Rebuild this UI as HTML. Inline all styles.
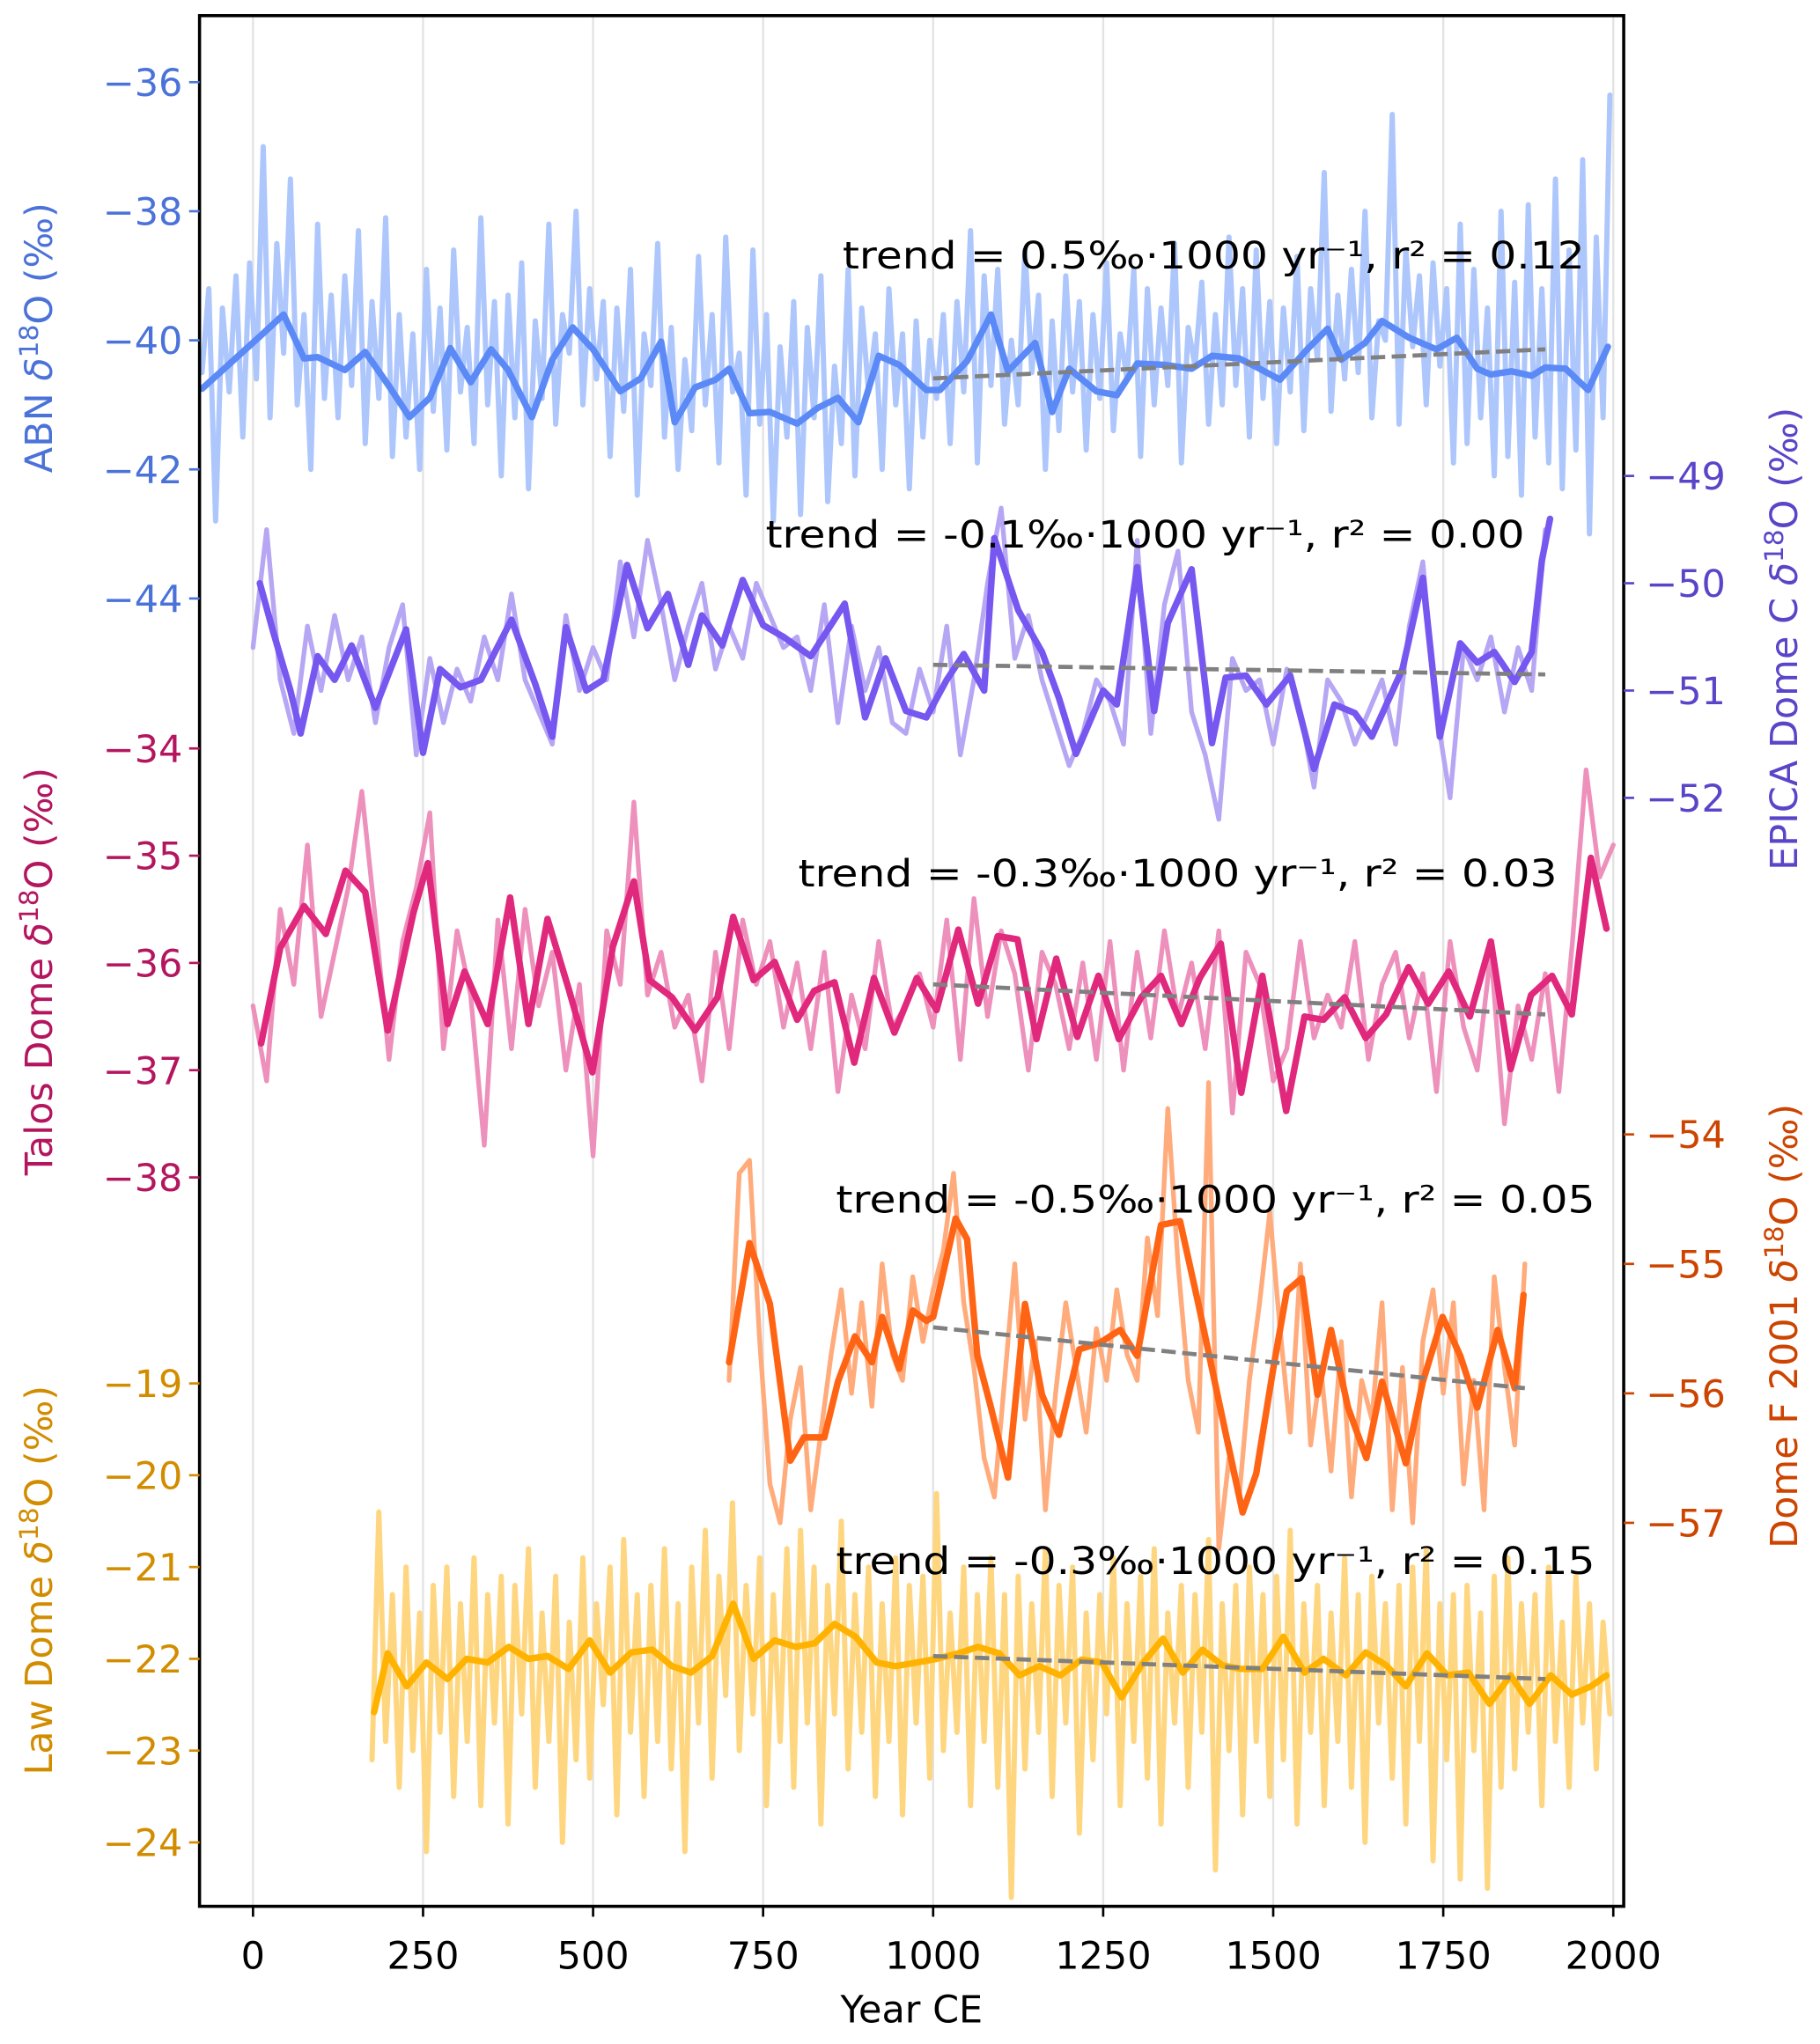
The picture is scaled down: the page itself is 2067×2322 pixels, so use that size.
<!DOCTYPE html>
<html><head><meta charset="utf-8"><style>
html,body{margin:0;padding:0;background:#fff}
svg{display:block}
text{font-family:"DejaVu Sans","Liberation Sans",sans-serif}
</style></head><body>
<svg id="chart" xmlns="http://www.w3.org/2000/svg" width="2067" height="2322" viewBox="0 0 1395.5 1567.6" preserveAspectRatio="none">
<defs><clipPath id="plotclip"><rect x="153" y="12" width="1092" height="1450"/></clipPath></defs>
<rect x="0" y="0" width="1400" height="1570" fill="#fff"/>
<g id="grid"></g>
<g id="series" clip-path="url(#plotclip)"></g>
<g id="annot"></g>
<rect x="153" y="12" width="1092" height="1450" fill="none" stroke="#000" stroke-width="2.4"/>
<g id="axes"></g>
</svg>
<script>
const NS="http://www.w3.org/2000/svg";
// ---------- data ----------
const xTicks=[0,250,500,750,1000,1250,1500,1750,2000];
const abnTicks=[-36,-38,-40,-42,-44];
const epicaTicks=[-49,-50,-51,-52];
const talosTicks=[-34,-35,-36,-37,-38];
const domefTicks=[-54,-55,-56,-57];
const lawTicks=[-19,-20,-21,-22,-23,-24];

const abnRawStart=-75, abnRawStep=10;
const abnRaw=[-40.5,-39.2,-42.8,-39.5,-40.8,-39.0,-41.5,-38.8,-40.6,-37.0,
-41.2,-38.5,-40.2,-37.5,-41.0,-39.6,-42.0,-38.2,-40.9,-39.3,
-41.2,-39.0,-40.7,-38.3,-41.6,-39.4,-40.9,-38.1,-41.8,-39.6,
-41.5,-39.9,-42.0,-38.9,-41.1,-39.5,-41.7,-38.6,-40.8,-39.8,
-41.6,-38.1,-41.0,-39.4,-42.1,-39.3,-41.2,-38.8,-42.3,-39.7,
-40.9,-38.2,-41.3,-39.6,-40.2,-38.0,-41.0,-39.2,-40.6,-39.4,
-41.8,-39.5,-41.1,-38.9,-42.4,-39.9,-40.7,-38.5,-41.5,-39.8,
-42.0,-40.3,-41.4,-38.7,-41.0,-39.6,-41.9,-38.4,-40.8,-40.2,
-42.4,-38.6,-41.3,-39.6,-42.8,-40.1,-41.5,-39.4,-42.7,-39.8,
-41.2,-39.0,-42.5,-40.4,-41.6,-38.9,-42.1,-39.5,-40.8,-39.9,
-42.0,-39.2,-41.0,-39.9,-42.3,-39.7,-41.5,-40.0,-40.9,-39.6,
-41.6,-39.4,-40.8,-38.3,-41.9,-39.0,-40.7,-38.9,-41.3,-40.0,
-41.0,-38.6,-40.5,-39.3,-42.0,-39.7,-41.4,-39.0,-40.8,-39.4,
-41.7,-39.6,-40.9,-38.8,-41.4,-39.9,-40.6,-38.9,-41.8,-39.2,
-41.0,-39.5,-40.7,-38.5,-41.9,-39.8,-40.4,-39.1,-41.3,-39.6,
-41.0,-38.4,-40.7,-39.2,-41.5,-38.6,-40.9,-39.4,-41.6,-39.5,
-40.8,-38.7,-41.4,-39.2,-40.3,-37.4,-41.1,-39.3,-40.6,-38.9,
-40.5,-38.0,-41.2,-39.7,-40.0,-36.5,-41.3,-38.6,-40.1,-39.0,
-41.0,-38.8,-40.4,-39.2,-41.9,-38.2,-41.6,-38.9,-41.2,-39.5,
-42.1,-38.0,-41.8,-39.1,-42.4,-37.9,-41.5,-39.2,-41.9,-37.5,
-42.3,-38.6,-41.7,-37.2,-43.0,-38.4,-41.2,-36.2];
const abnSmoothYears=[-75,10,45,75,95,135,165,200,230,260,290,320,350,375,410,440,470,500,540,570,600,620,650,680,700,730,760,800,830,860,890,920,950,990,1010,1050,1085,1110,1150,1175,1200,1240,1270,1300,1340,1380,1410,1450,1480,1510,1550,1580,1600,1635,1660,1700,1740,1770,1800,1820,1850,1880,1900,1930,1963,1992];
const abnSmooth=[-40.75,-39.94,-39.6,-40.28,-40.26,-40.46,-40.18,-40.71,-41.19,-40.89,-40.12,-40.65,-40.14,-40.46,-41.19,-40.3,-39.8,-40.14,-40.79,-40.59,-40.02,-41.27,-40.73,-40.61,-40.44,-41.13,-41.11,-41.29,-41.05,-40.89,-41.27,-40.24,-40.38,-40.77,-40.77,-40.32,-39.6,-40.48,-40.04,-41.11,-40.44,-40.79,-40.85,-40.36,-40.38,-40.44,-40.24,-40.28,-40.44,-40.61,-40.14,-39.82,-40.3,-40.04,-39.7,-39.96,-40.14,-39.96,-40.44,-40.53,-40.48,-40.55,-40.42,-40.44,-40.77,-40.1];

const epicaRawStart=0, epicaRawStep=20;
const epicaRaw=[-50.6,-49.5,-50.9,-51.4,-50.4,-51.0,-50.3,-50.9,-50.5,-51.3,
-50.6,-50.2,-51.6,-50.7,-51.3,-50.8,-51.1,-50.5,-50.9,-50.1,
-50.9,-51.2,-51.5,-50.3,-51.0,-50.6,-50.9,-49.8,-50.5,-49.6,
-50.2,-50.9,-50.4,-50.0,-50.8,-50.4,-50.7,-50.0,-50.3,-50.6,
-50.5,-51.0,-50.2,-51.3,-50.4,-51.0,-50.6,-51.3,-51.4,-50.8,
-51.2,-50.4,-51.6,-50.9,-50.0,-49.3,-50.7,-50.3,-50.9,-51.3,
-51.7,-51.4,-50.9,-51.1,-51.5,-49.6,-51.4,-50.2,-49.7,-51.2,
-51.6,-52.2,-50.7,-51.0,-50.9,-51.5,-50.8,-51.2,-51.9,-50.9,
-51.1,-51.5,-51.2,-50.9,-51.5,-50.4,-49.8,-51.2,-52.0,-50.6,
-50.9,-50.5,-51.2,-50.6,-51.0,-49.5];
const epicaSmoothYears=[10,30,55,70,95,120,145,180,225,250,275,305,335,380,415,440,460,490,515,550,580,610,640,660,690,720,750,780,820,870,900,930,960,990,1020,1045,1075,1090,1125,1160,1185,1210,1250,1270,1300,1325,1345,1380,1410,1430,1460,1490,1525,1560,1590,1620,1645,1690,1720,1745,1775,1800,1825,1855,1880,1895,1907];
const epicaSmooth=[-50.0,-50.46,-51.0,-51.4,-50.68,-50.9,-50.58,-51.16,-50.43,-51.58,-50.8,-50.97,-50.9,-50.34,-50.94,-51.43,-50.41,-51.0,-50.9,-49.83,-50.42,-50.1,-50.76,-50.3,-50.58,-49.97,-50.39,-50.5,-50.68,-50.19,-51.25,-50.7,-51.19,-51.25,-50.9,-50.66,-51.0,-49.58,-50.25,-50.64,-51.07,-51.59,-51.0,-51.13,-49.85,-51.19,-50.37,-49.87,-51.49,-50.88,-50.86,-51.13,-50.86,-51.73,-51.13,-51.21,-51.43,-50.8,-49.95,-51.43,-50.56,-50.74,-50.64,-50.92,-50.64,-49.79,-49.4];

const talosRawStart=0, talosRawStep=20;
const talosRaw=[-36.4,-37.1,-35.5,-36.2,-34.9,-36.5,-35.9,-35.3,-34.4,-35.6,
-36.9,-35.8,-35.3,-34.6,-36.8,-35.7,-36.3,-37.7,-35.6,-36.8,
-35.5,-36.4,-35.9,-37.0,-36.2,-37.8,-35.7,-36.2,-34.5,-36.3,
-35.9,-36.6,-36.3,-37.1,-35.9,-36.8,-35.6,-36.2,-35.8,-36.6,
-36.0,-36.8,-35.9,-37.2,-36.3,-36.8,-35.8,-36.6,-36.4,-36.1,
-36.6,-35.6,-36.9,-35.4,-36.5,-35.7,-36.1,-37.0,-35.9,-36.2,
-36.8,-36.0,-36.9,-35.8,-37.0,-35.9,-36.7,-35.7,-36.5,-36.0,
-36.8,-35.7,-37.4,-35.9,-36.2,-37.1,-36.8,-35.8,-36.7,-36.3,
-36.6,-35.8,-36.9,-36.2,-35.9,-36.7,-36.1,-37.2,-35.8,-36.6,
-37.0,-35.9,-37.5,-36.4,-36.9,-36.1,-37.2,-35.8,-34.2,-35.2,-34.9];
const talosSmoothYears=[12,40,75,107,136,165,198,236,257,286,311,345,378,405,433,464,499,529,560,583,616,650,683,706,736,767,800,825,855,884,913,943,976,1005,1037,1066,1095,1124,1152,1181,1212,1243,1273,1306,1335,1365,1392,1423,1453,1484,1519,1546,1574,1605,1636,1666,1699,1728,1758,1789,1820,1849,1879,1910,1939,1967,1990];
const talosSmooth=[-36.75,-35.86,-35.47,-35.73,-35.14,-35.34,-36.63,-35.53,-35.07,-36.57,-36.08,-36.57,-35.39,-36.57,-35.59,-36.24,-37.02,-35.85,-35.24,-36.16,-36.32,-36.63,-36.32,-35.57,-36.16,-35.99,-36.53,-36.26,-36.18,-36.93,-36.14,-36.65,-36.14,-36.44,-35.69,-36.38,-35.75,-35.78,-36.71,-35.96,-36.69,-36.12,-36.71,-36.32,-36.12,-36.57,-36.14,-35.82,-37.21,-36.12,-37.38,-36.5,-36.53,-36.32,-36.7,-36.48,-36.04,-36.38,-36.08,-36.5,-35.8,-36.99,-36.3,-36.12,-36.48,-35.02,-35.68];

const domefRawStart=700, domefRawStep=15;
const domefRaw=[-55.9,-54.3,-54.2,-55.6,-56.7,-57.0,-56.2,-55.8,-56.9,-56.3,
-55.7,-55.2,-56.0,-55.3,-56.1,-55.0,-55.7,-55.9,-55.1,-55.6,
-55.2,-54.9,-54.3,-55.3,-55.8,-56.5,-56.8,-55.9,-55.0,-56.2,
-55.6,-56.9,-56.0,-55.3,-55.8,-56.3,-55.5,-55.9,-55.2,-55.7,
-55.9,-54.8,-55.4,-53.8,-55.0,-55.9,-56.3,-53.6,-57.2,-56.5,
-56.8,-55.9,-55.3,-54.6,-55.5,-56.3,-55.0,-56.4,-55.8,-56.6,
-55.6,-56.8,-55.9,-56.2,-55.3,-56.9,-55.8,-57.0,-55.6,-55.2,
-56.0,-55.3,-56.7,-55.9,-56.9,-55.1,-55.8,-56.4,-55.0];
const domefSmoothYears=[700,730,760,790,810,840,860,885,910,925,950,970,990,1000,1033,1050,1065,1085,1110,1135,1160,1185,1215,1245,1275,1300,1335,1363,1390,1420,1455,1475,1500,1520,1542,1565,1585,1610,1637,1660,1695,1720,1749,1775,1800,1830,1855,1868];
const domefSmooth=[-55.76,-54.84,-55.31,-56.52,-56.34,-56.34,-55.91,-55.56,-55.76,-55.41,-55.81,-55.36,-55.44,-55.41,-54.65,-54.81,-55.71,-56.11,-56.65,-55.31,-56.01,-56.32,-55.66,-55.61,-55.51,-55.71,-54.70,-54.67,-55.31,-56.06,-56.92,-56.62,-55.81,-55.21,-55.11,-56.01,-55.51,-56.11,-56.5,-55.91,-56.54,-55.91,-55.41,-55.71,-56.11,-55.51,-55.96,-55.24];

const lawRawStart=175, lawRawStep=10;
const lawRaw=[-23.1,-20.4,-22.9,-21.3,-23.4,-21.0,-23.0,-21.5,-24.1,-21.2,
-22.8,-21.0,-23.5,-21.4,-22.9,-20.9,-23.6,-21.3,-22.7,-21.1,
-23.8,-21.2,-22.6,-20.8,-23.4,-21.5,-22.9,-21.1,-24.0,-21.6,
-23.1,-20.9,-23.3,-21.4,-22.5,-21.0,-23.7,-20.7,-22.8,-21.3,
-23.5,-21.2,-22.9,-20.8,-23.2,-21.4,-24.1,-21.0,-22.7,-20.6,
-23.3,-21.1,-22.4,-20.3,-23.0,-21.2,-22.6,-20.9,-23.6,-21.3,
-22.9,-20.8,-23.4,-20.6,-22.7,-21.0,-23.8,-21.2,-22.6,-20.5,
-23.2,-21.3,-22.8,-21.0,-23.5,-21.4,-22.9,-20.9,-23.7,-21.2,
-22.7,-21.1,-23.3,-20.2,-23.0,-21.5,-22.8,-21.0,-23.6,-21.3,
-22.9,-20.9,-23.4,-21.3,-24.6,-21.1,-23.2,-21.4,-22.8,-20.8,
-23.5,-21.2,-22.7,-21.0,-23.9,-21.5,-23.1,-21.3,-22.6,-20.9,
-23.6,-21.4,-22.9,-21.1,-23.3,-20.8,-23.8,-21.5,-22.7,-21.2,
-23.4,-21.3,-22.8,-20.7,-24.3,-21.4,-23.0,-21.2,-23.7,-21.0,
-22.9,-21.3,-23.5,-21.1,-23.1,-20.6,-23.8,-21.4,-22.8,-21.2,
-23.6,-21.5,-22.9,-20.9,-23.4,-21.3,-24.0,-21.1,-22.7,-21.4,
-23.3,-21.2,-23.8,-21.0,-22.9,-20.8,-24.2,-21.4,-23.1,-21.3,
-24.4,-21.2,-23.0,-21.5,-24.5,-21.1,-23.4,-20.9,-23.2,-21.4,
-22.8,-21.3,-23.6,-21.0,-22.9,-21.6,-23.4,-21.1,-22.7,-21.4,
-23.2,-21.6,-22.6];
const lawSmoothYears=[178,198,226,255,286,314,345,376,405,433,464,495,525,556,587,616,644,675,706,736,767,798,826,855,886,917,945,976,1005,1037,1066,1097,1127,1156,1187,1218,1248,1277,1308,1338,1367,1396,1425,1453,1484,1515,1546,1574,1607,1636,1666,1695,1726,1756,1787,1818,1849,1877,1908,1939,1967,1990];
const lawSmooth=[-22.58,-21.94,-22.3,-22.04,-22.22,-22.0,-22.04,-21.87,-22.0,-21.97,-22.11,-21.8,-22.15,-21.93,-21.9,-22.08,-22.15,-21.97,-21.4,-22.0,-21.8,-21.87,-21.83,-21.62,-21.76,-22.04,-22.08,-22.04,-22.0,-21.94,-21.87,-21.94,-22.18,-22.08,-22.18,-22.01,-22.04,-22.42,-22.05,-21.78,-22.15,-21.9,-22.07,-22.11,-22.11,-21.76,-22.15,-22.0,-22.18,-21.93,-22.07,-22.3,-21.94,-22.18,-22.15,-22.49,-22.18,-22.49,-22.18,-22.39,-22.3,-22.18];

const trendYears=[1000,1900];
const abnTrend=[-40.59,-40.14];
const epicaTrend=[-50.76,-50.85];
const talosTrend=[-36.2,-36.48];
const domefTrendYears=[1000,1870];
const domefTrend=[-55.49,-55.96];
const lawTrend=[-21.97,-22.22];
const trendLabels=["trend = 0.5‰·1000 yr⁻¹, r² = 0.12","trend = -0.1‰·1000 yr⁻¹, r² = 0.00","trend = -0.3‰·1000 yr⁻¹, r² = 0.03","trend = -0.5‰·1000 yr⁻¹, r² = 0.05","trend = -0.3‰·1000 yr⁻¹, r² = 0.15"];

// ---------- scales ----------
const xS=yr=>194+yr*0.5215;
const yA=v=>63+(-36-v)*49.5;
const yE=v=>365+(-49-v)*82.3;
const yT=v=>574+(-34-v)*82.25;
const yF=v=>870+(-54-v)*99.3;
const yL=v=>1061+(-19-v)*70.4;

const grid=document.getElementById('grid');
const series=document.getElementById('series');
const axes=document.getElementById('axes');
const annot=document.getElementById('annot');

function mk(tag,attrs,parent){const e=document.createElementNS(NS,tag);for(const k in attrs)e.setAttribute(k,attrs[k]);parent.appendChild(e);return e;}
function pathFrom(xs,vs,ys){return xs.map((x,i)=>(i?'L':'M')+xS(x).toFixed(2)+','+ys(vs[i]).toFixed(2)).join('');}
function seqYears(start,step,n){const a=[];for(let i=0;i<n;i++)a.push(start+i*step);return a;}

xTicks.forEach(t=>{
  const l=mk('line',{x1:xS(t),x2:xS(t),y1:12,y2:1462,stroke:'#e3e3e3','stroke-width':1.6},grid);
  
  
});

function drawSeries(name,xs,vs,ys,color,w){
  const p=mk('path',{d:pathFrom(xs,vs,ys),fill:'none',stroke:color,'stroke-width':w,'stroke-linejoin':'round','stroke-linecap':'round'},series);
  
  
}
function drawTrend(name,xs,vs,ys){
  const p=mk('path',{d:pathFrom(xs,vs,ys),fill:'none',stroke:'#808080','stroke-width':3.2,'stroke-dasharray':'11,5'},series);
  
  
}

drawSeries('abn-raw-line',seqYears(abnRawStart,abnRawStep,abnRaw.length),abnRaw,yA,'#adc6fc',4);
drawSeries('abn-smooth-line',abnSmoothYears,abnSmooth,yA,'#5b8af7',5);
drawSeries('epica-raw-line',seqYears(epicaRawStart,epicaRawStep,epicaRaw.length),epicaRaw,yE,'#b7a6f3',3.6);
drawSeries('epica-smooth-line',epicaSmoothYears,epicaSmooth,yE,'#7657ef',5);
drawSeries('talos-raw-line',seqYears(talosRawStart,talosRawStep,talosRaw.length),talosRaw,yT,'#ee90bc',3.6);
drawSeries('talos-smooth-line',talosSmoothYears,talosSmooth,yT,'#e0287c',5);
drawSeries('domef-raw-line',seqYears(domefRawStart,domefRawStep,domefRaw.length),domefRaw,yF,'#ffab7b',3.6);
drawSeries('domef-smooth-line',domefSmoothYears,domefSmooth,yF,'#ff6414',5);
drawSeries('law-raw-line',seqYears(lawRawStart,lawRawStep,lawRaw.length),lawRaw,yL,'#ffd680',4);
drawSeries('law-smooth-line',lawSmoothYears,lawSmooth,yL,'#ffb300',5);
drawTrend('abn-trend-line',trendYears,abnTrend,yA);
drawTrend('epica-trend-line',trendYears,epicaTrend,yE);
drawTrend('talos-trend-line',trendYears,talosTrend,yT);
drawTrend('domef-trend-line',domefTrendYears,domefTrend,yF);
drawTrend('law-trend-line',trendYears,lawTrend,yL);

// annotations
const annPos=[[646,206,569],[587,420,582],[612,680,582],[641,930,582],[641,1207,582]];
trendLabels.forEach((s,i)=>{
  const t=mk('text',{x:annPos[i][0],y:annPos[i][1],'font-size':29,fill:'#000',textLength:annPos[i][2],lengthAdjust:'spacingAndGlyphs'},annot);
  t.textContent=s;
  
  
});

// x axis
xTicks.forEach(t=>{
  mk('line',{x1:xS(t),x2:xS(t),y1:1462,y2:1470,stroke:'#000','stroke-width':1.8},axes);
  const tx=mk('text',{x:xS(t),y:1510,'font-size':29,'text-anchor':'middle',fill:'#000'},axes);
  tx.textContent=String(t);
  
  
});
const xl=mk('text',{x:699,y:1551,'font-size':29,'text-anchor':'middle',fill:'#000'},axes);
xl.textContent='Year CE';



function yAxis(ticks,ys,color,side,name){
  ticks.forEach(v=>{
    const y=ys(v);
    if(side==='left'){
      mk('line',{x1:145,x2:153,y1:y,y2:y,stroke:color,'stroke-width':1.8},axes);
      const t=mk('text',{x:140,y:y+10.5,'font-size':29,'text-anchor':'end',fill:color},axes);
      t.textContent='−'+Math.abs(v);
      
      
    } else {
      mk('line',{x1:1245,x2:1253,y1:y,y2:y,stroke:color,'stroke-width':1.8},axes);
      const t=mk('text',{x:1262,y:y+10.5,'font-size':29,'text-anchor':'start',fill:color},axes);
      t.textContent='−'+Math.abs(v);
      
      
    }
  });
}
yAxis(abnTicks,yA,'#4a72d8','left','abn');
yAxis(talosTicks,yT,'#b3165f','left','talos');
yAxis(lawTicks,yL,'#d28c00','left','law');
yAxis(epicaTicks,yE,'#5a44c8','right','epica');
yAxis(domefTicks,yF,'#cc4400','right','domef');

function yTitle(prefix,cx,cy,color,name){
  const t=mk('text',{x:0,y:0,'font-size':29,'text-anchor':'middle',fill:color,transform:`translate(${cx},${cy}) rotate(-90)`},axes);
  t.innerHTML=prefix+' <tspan font-style="italic">δ</tspan><tspan font-size="20" dy="-11">18</tspan><tspan dy="11">O (‰)</tspan>';
  
  
}
yTitle('ABN',40,259,'#4a72d8','abn-axis-title');
yTitle('Talos Dome',40,745,'#b3165f','talos-axis-title');
yTitle('Law Dome',40,1212,'#d28c00','law-axis-title');
yTitle('EPICA Dome C',1378,490,'#5a44c8','epica-axis-title');
yTitle('Dome F 2001',1378,1017,'#cc4400','domef-axis-title');
</script>
</body></html>
